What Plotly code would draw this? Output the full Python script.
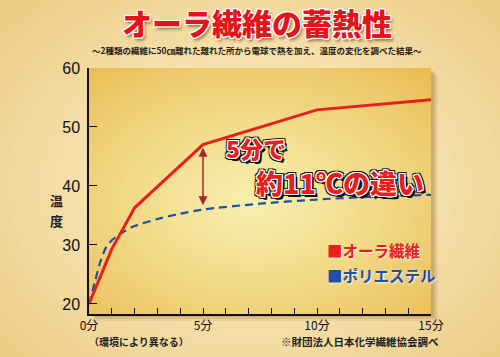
import plotly.graph_objects as go

# ---------------- data ----------------
minutes_aura = [0, 1, 2, 5, 10, 15]
temp_aura = [20, 29.3, 36.3, 47, 52.9, 54.6]

minutes_poly = [0, 0.25, 0.5, 0.75, 1, 1.5, 2, 3, 4, 5, 7.5, 10, 12.5, 15]
temp_poly = [20, 23.6, 27.2, 29.6, 30.8, 32.2, 33.2, 34.4, 35.3, 36, 37, 37.7, 38.2, 38.5]

x_tickvals = list(range(16))
x_ticktext = [f"{m}分" if m % 5 == 0 else "" for m in x_tickvals]
y_tickvals = [20, 30, 40, 50, 60]

series_names = ["オーラ繊維", "ポリエステル"]
title_text = "オーラ繊維の蓄熱性"
subtitle_text = "〜2種類の繊維に50㎝離れた離れた所から電球で熱を加え、温度の変化を調べた結果〜"
y_title_chars = ["温", "度"]

RED = "#e8201c"
BLUE = "#1f4fa6"

W, H = 500, 357
ML, MR, MT, MB = 89, 69, 68, 43
PW, PH = W - ML - MR, H - MT - MB
X_RANGE = [0, 15]
Y_RANGE = [18.3, 60]


def px(x):
    return (x - ML) / PW


def py(y):
    return (H - MB - y) / PH


def mix(c1, c2, t):
    a = [int(c1[i:i + 2], 16) for i in (1, 3, 5)]
    b = [int(c2[i:i + 2], 16) for i in (1, 3, 5)]
    return "#" + "".join(f"{round(a[k] + (b[k] - a[k]) * t):02x}" for k in range(3))


shapes = []

# page background radial glow
N = 28
cx, cy, rx, ry = 255, 185, 330, 250
for i in range(N):
    f = 1 - i / N
    t = (i / (N - 1)) ** 0.9
    shapes.append(dict(type="circle", xref="paper", yref="paper", layer="below",
                       x0=px(cx - rx * f), x1=px(cx + rx * f),
                       y0=py(cy + ry * f), y1=py(cy - ry * f),
                       fillcolor=mix("#eecd86", "#fbf1cf", t), line_width=0))

# drop shadow of plot panel
for off, op in [(7, 0.10), (5, 0.14), (3, 0.20)]:
    shapes.append(dict(type="rect", xref="paper", yref="paper", layer="below",
                       x0=px(ML + off), x1=px(ML + PW + off),
                       y0=py(MT + PH + off), y1=py(MT + off),
                       fillcolor=f"rgba(140,95,20,{op})", line_width=0))

# plot panel radial gradient (axis coords -> clipped to plot)
shapes.append(dict(type="rect", xref="x", yref="y", layer="below",
                   x0=X_RANGE[0], x1=X_RANGE[1], y0=Y_RANGE[0], y1=Y_RANGE[1],
                   fillcolor="#e8b444", line_width=0))
N2 = 30
gcx, gcy, grx, gry = 7.2, 37.5, 12.5, 33
for i in range(N2):
    f = 1 - i / N2
    t = (i / (N2 - 1)) ** 0.8
    shapes.append(dict(type="circle", xref="x", yref="y", layer="below",
                       x0=gcx - grx * f, x1=gcx + grx * f,
                       y0=gcy - gry * f, y1=gcy + gry * f,
                       fillcolor=mix("#e8b444", "#f7efae", t), line_width=0))

fig = go.Figure()
fig.add_trace(go.Scatter(x=minutes_poly, y=temp_poly, mode="lines", name=series_names[1],
                         line=dict(color=BLUE, width=2.2, dash="8px,5px", shape="spline", smoothing=0.8),
                         showlegend=False))
fig.add_trace(go.Scatter(x=minutes_aura, y=temp_aura, mode="lines", name=series_names[0],
                         line=dict(color=RED, width=3), showlegend=False))

white_ring = ", ".join(f"{dx}px {dy}px 0 #fff" for dx, dy in
                       [(-1, -1), (1, -1), (-1, 1), (1, 1), (0, 1), (0, -1), (1, 0), (-1, 0)])
black_ring = ", ".join(f"{dx}px {dy}px 0 #111" for dx, dy in
                       [(-2, -2), (2, -2), (-2, 2), (2, 2), (0, 2), (0, -2), (2, 0), (-2, 0), (3, 3)])

annotations = [
    # title
    dict(text=title_text, x=px(257), y=py(21.5), xref="paper", yref="paper", showarrow=False,
         xanchor="center", yanchor="middle",
         font=dict(family="Noto Sans CJK JP", size=30, color="#e3141c", weight=900,
                   shadow=white_ring + ", 2px 3px 3px rgba(90,40,0,0.55)")),
    dict(text=subtitle_text, x=px(257), y=py(49.5), xref="paper", yref="paper", showarrow=False,
         xanchor="center", yanchor="middle",
         font=dict(family="Noto Sans CJK JP", size=8.5, color="#2a1a10", weight=700)),
    # difference arrow
    dict(x=5, y=46.5, ax=5, ay=36.5, xref="x", yref="y", axref="x", ayref="y", text="",
         showarrow=True, arrowhead=2, startarrowhead=2, arrowside="end+start",
         arrowsize=1.2, arrowwidth=1.5, arrowcolor="#a32a2a", standoff=0, startstandoff=0),
    dict(text="5分で", x=px(256), y=py(148), xref="paper", yref="paper", showarrow=False,
         xanchor="center", yanchor="middle",
         font=dict(family="Noto Sans CJK JP", size=23, color=RED, weight=900,
                   shadow=white_ring + ", " + black_ring)),
    dict(text="約11℃の違い", x=px(340), y=py(182), xref="paper", yref="paper", showarrow=False,
         xanchor="center", yanchor="middle",
         font=dict(family="Noto Sans CJK JP", size=27, color=RED, weight=900,
                   shadow=white_ring + ", " + black_ring)),
    # legend-like labels
    dict(text="■" + series_names[0], x=px(325), y=py(250), xref="paper", yref="paper", showarrow=False,
         xanchor="left", yanchor="middle",
         font=dict(family="Noto Sans CJK JP", size=15.5, color=RED, weight=700,
                   shadow="1px 1px 2px rgba(255,255,255,0.8)")),
    dict(text="■" + series_names[1], x=px(325), y=py(275), xref="paper", yref="paper", showarrow=False,
         xanchor="left", yanchor="middle",
         font=dict(family="Noto Sans CJK JP", size=15.5, color=BLUE, weight=700,
                   shadow="1px 1px 2px rgba(255,255,255,0.8)")),
    # footnotes
    dict(text="（環境により異なる）", x=px(139), y=py(341), xref="paper", yref="paper", showarrow=False,
         xanchor="center", yanchor="middle",
         font=dict(family="Noto Sans CJK JP", size=10, color="#222", weight=700)),
    dict(text="※財団法人日本化学繊維協会調べ", x=px(360), y=py(341), xref="paper", yref="paper",
         showarrow=False, xanchor="center", yanchor="middle",
         font=dict(family="Noto Sans CJK JP", size=10.5, color="#222", weight=700)),
]
# vertical y-axis title, one character per line
for i, ch in enumerate(y_title_chars):
    annotations.append(dict(text=ch, x=px(56), y=py(200.5 + 19.5 * i), xref="paper", yref="paper",
                            showarrow=False, xanchor="center", yanchor="middle",
                            font=dict(family="Noto Sans CJK JP", size=13, color="#222", weight=700)))

fig.update_layout(
    width=W, height=H,
    margin=dict(l=ML, r=MR, t=MT, b=MB, pad=0),
    paper_bgcolor="#eecd86",
    plot_bgcolor="#e8b444",
    shapes=shapes,
    annotations=annotations,
    showlegend=False,
    font=dict(family="Liberation Sans", color="#111"),
)
fig.update_xaxes(range=X_RANGE, tickvals=x_tickvals, ticktext=x_ticktext,
                 showline=True, linecolor="#111", linewidth=1.5,
                 ticks="inside", ticklen=6, tickwidth=1.3, tickcolor="#111",
                 showgrid=False, zeroline=False,
                 tickfont=dict(family="Noto Sans CJK JP", size=12, color="#111"),
                 ticklabelstandoff=0)
fig.update_yaxes(range=Y_RANGE, tickvals=y_tickvals,
                 showline=True, linecolor="#111", linewidth=1.5,
                 ticks="inside", ticklen=8, tickwidth=1.3, tickcolor="#111",
                 showgrid=False, zeroline=False,
                 tickfont=dict(family="Liberation Sans", size=16, color="#111"),
                 ticklabelstandoff=4)

fig.write_html("out.html",
               config={"displayModeBar": False},
               post_script="document.documentElement.style.margin='0';"
                           "document.body.style.margin='0';document.body.style.padding='0';"
                           "document.body.style.overflow='hidden';")
